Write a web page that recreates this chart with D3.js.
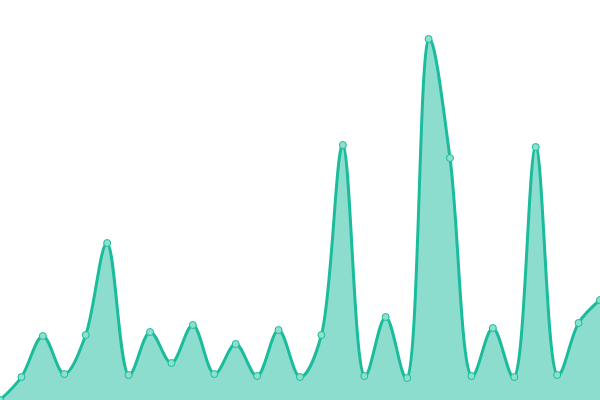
<!DOCTYPE html>
<html>
<head>
<meta charset="utf-8">
<script src="https://cdn.jsdelivr.net/npm/d3@7"></script>
<style>
  html, body { margin: 0; padding: 0; background: #fff; }
  svg { display: block; }
</style>
</head>
<body>
<svg id="chart" width="600" height="400"></svg>
<script>
// sample index and value
const steps = d3.range(29);
const values = [0, 23, 64, 26, 65, 157, 25, 68, 37, 75, 26, 56, 24, 70, 23, 65,
                255, 24, 83, 22, 361, 242, 24, 72, 23, 253, 25, 77, 100];

const width = 600, height = 400;
const svg = d3.select("#chart");

const x = d3.scaleLinear().domain([0, steps.length - 1]).range([0, width]);
const y = d3.scaleLinear().domain([0, 400]).range([height, 0]);

const data = steps.map(i => ({ i, v: values[i] }));

const curve = d3.curveCatmullRom.alpha(0.4);

svg.append("path")
  .datum(data)
  .attr("fill", "#1abc9c")
  .attr("fill-opacity", 0.5)
  .attr("d", d3.area().x(d => x(d.i)).y0(height).y1(d => y(d.v)).curve(curve));

svg.append("path")
  .datum(data)
  .attr("fill", "none")
  .attr("stroke", "#1abc9c")
  .attr("stroke-width", 3)
  .attr("d", d3.line().x(d => x(d.i)).y(d => y(d.v)).curve(curve));

svg.selectAll("circle")
  .data(data)
  .enter()
  .append("circle")
    .attr("cx", d => x(d.i))
    .attr("cy", d => y(d.v))
    .attr("r", 3.5)
    .attr("fill", "#8ee0cc")
    .attr("stroke", "#1abc9c")
    .attr("stroke-width", 1);
</script>
</body>
</html>
